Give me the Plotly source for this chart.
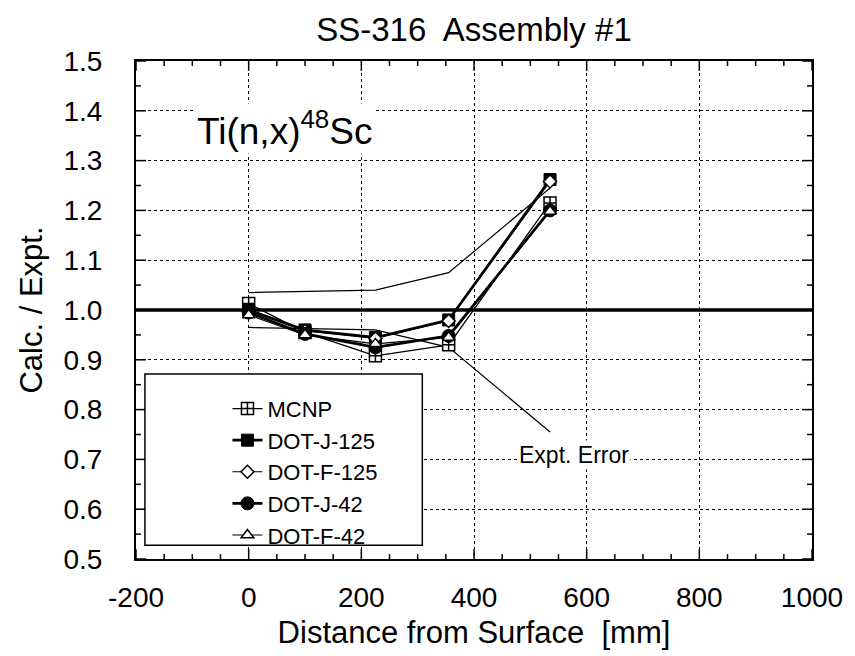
import plotly.graph_objects as go

# ---- data ----
distance = [0, 100, 225, 355, 535]
mcnp = [1.013, 0.955, 0.908, 0.930, 1.215]
dot_j_125 = [1.000, 0.960, 0.945, 0.980, 1.262]
dot_f_125 = [0.998, 0.958, 0.943, 0.978, 1.258]
dot_j_42 = [0.995, 0.952, 0.925, 0.948, 1.200]
dot_f_42 = [0.990, 0.950, 0.932, 0.945, 1.198]
expt_error = [0.035, 0.037, 0.040, 0.075, 0.245]
reference_ratio = 1.0

x_ticks = [-200, 0, 200, 400, 600, 800, 1000]
y_ticks = [0.5, 0.6, 0.7, 0.8, 0.9, 1.0, 1.1, 1.2, 1.3, 1.4, 1.5]
x_minor_ticks = [v for v in range(-200, 1001, 50) if v not in x_ticks]
y_minor_ticks = [round(0.55 + 0.1 * i, 2) for i in range(10)]

FONT = "Liberation Sans, Arial, Helvetica, sans-serif"
W, H = 855, 656
L, R, T, B = 136, 39, 61, 89
PW, PH = W - L - R, H - T - B
MAJOR_LEN, MINOR_LEN = 10, 5


def px_x(p):
    return (p - L) / PW


def px_y(p):
    return (H - B - p) / PH


fig = go.Figure()

# experimental error band
upper = [reference_ratio + e for e in expt_error]
lower = [reference_ratio - e for e in expt_error]
for band in (upper, lower):
    fig.add_trace(go.Scatter(x=distance, y=band, mode="lines",
                             line=dict(color="black", width=1.2),
                             showlegend=False, hoverinfo="skip"))

series = [
    ("MCNP", mcnp, dict(symbol="square-cross", size=12, color="white",
                        line=dict(color="black", width=1.5)), 1.3),
    ("DOT-J-125", dot_j_125, dict(symbol="square", size=12, color="black",
                                  line=dict(color="black", width=1)), 2.6),
    ("DOT-F-125", dot_f_125, dict(symbol="diamond", size=10, color="white",
                                  line=dict(color="black", width=1.5)), 1.1),
    ("DOT-J-42", dot_j_42, dict(symbol="circle", size=13, color="black",
                                line=dict(color="black", width=1)), 2.6),
    ("DOT-F-42", dot_f_42, dict(symbol="triangle-up", size=11, color="white",
                                line=dict(color="black", width=1.5)), 1.1),
]
for name, vals, marker, lw in series:
    fig.add_trace(go.Scatter(x=distance, y=vals, mode="lines+markers", name=name,
                             line=dict(color="black", width=lw), marker=marker))

# thick reference line at 1.0
fig.add_shape(type="line", xref="paper", yref="y", x0=0, x1=1,
              y0=reference_ratio, y1=reference_ratio,
              line=dict(color="black", width=3.5), layer="below")

# inside tick marks on all four sides (positions from the tick arrays)
for vals, ln in ((x_ticks, MAJOR_LEN), (x_minor_ticks, MINOR_LEN)):
    f = ln / PH
    for v in vals:
        for a, b in ((0, f), (1 - f, 1)):
            fig.add_shape(type="line", xref="x", yref="y domain",
                          x0=v, x1=v, y0=a, y1=b,
                          line=dict(color="black", width=1.5), layer="above")
for vals, ln in ((y_ticks, MAJOR_LEN), (y_minor_ticks, MINOR_LEN)):
    f = ln / PW
    for v in vals:
        for a, b in ((0, f), (1 - f, 1)):
            fig.add_shape(type="line", xref="x domain", yref="y",
                          x0=a, x1=b, y0=v, y1=v,
                          line=dict(color="black", width=1.5), layer="above")

# legend box
fig.add_shape(type="rect", xref="paper", yref="paper",
              x0=px_x(145), x1=px_x(424), y0=px_y(553), y1=px_y(379),
              fillcolor="white", line=dict(color="black", width=1.5), layer="above")

fig.add_annotation(x=578, y=0.708, xref="x", yref="y", text="Expt. Error",
                   showarrow=False, bgcolor="white",
                   font=dict(family=FONT, size=23, color="black"))

fig.add_annotation(x=px_x(195), y=px_y(130), xref="paper", yref="paper",
                   xanchor="left", yanchor="middle",
                   text="Ti(n,x)<sup>48</sup>Sc", showarrow=False, bgcolor="white",
                   font=dict(family=FONT, size=37, color="black"))

axis_common = dict(
    showline=True, linecolor="black", linewidth=2, mirror=True,
    ticks="",
    showgrid=True, gridcolor="black", gridwidth=1.3, griddash="dot",
    zeroline=False,
    tickfont=dict(family=FONT, size=28, color="black"),
    title_font=dict(family=FONT, size=31, color="black"),
)

fig.update_layout(
    xaxis=dict(range=[-200, 1000], tickmode="array", tickvals=x_ticks,
               ticktext=[str(v) for v in x_ticks],
               ticklabelstandoff=12,
               title=dict(text="Distance from Surface  [mm]", standoff=10),
               **axis_common),
    yaxis=dict(range=[0.5, 1.5], tickmode="array", tickvals=y_ticks,
               ticktext=[f"{v:.1f}" for v in y_ticks],
               ticklabelstandoff=26,
               title=dict(text="Calc. / Expt.", standoff=12),
               **axis_common),
)

fig.update_layout(
    width=W, height=H,
    margin=dict(l=L, r=R, t=T, b=B),
    paper_bgcolor="white", plot_bgcolor="white",
    font=dict(family=FONT, color="black"),
    title=dict(text="SS-316  Assembly #1", x=px_x(476), xref="paper",
               y=1 - 29 / H, yref="container", xanchor="center", yanchor="middle",
               font=dict(family=FONT, size=33, color="black")),
    showlegend=True,
    legend=dict(x=px_x(228), y=px_y(393), xanchor="left", yanchor="top",
                bgcolor="rgba(0,0,0,0)", borderwidth=0,
                font=dict(family=FONT, size=22, color="black"),
                tracegroupgap=0),
)

fig.write_html("out.html")
